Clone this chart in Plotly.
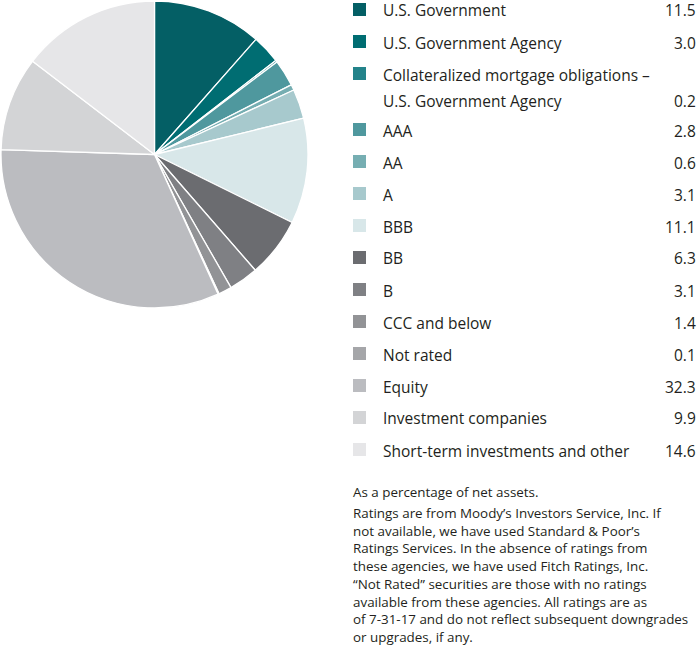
import plotly.graph_objects as go

categories = [
    "U.S. Government",
    "U.S. Government Agency",
    "Collateralized mortgage obligations –<br>U.S. Government Agency",
    "AAA",
    "AA",
    "A",
    "BBB",
    "BB",
    "B",
    "CCC and below",
    "Not rated",
    "Equity",
    "Investment companies",
    "Short-term investments and other",
]
values = [11.5, 3.0, 0.2, 2.8, 0.6, 3.1, 11.1, 6.3, 3.1, 1.4, 0.1, 32.3, 9.9, 14.6]
value_labels = ["11.5", "3.0", "0.2", "2.8", "0.6", "3.1", "11.1", "6.3", "3.1", "1.4", "0.1", "32.3", "9.9", "14.6"]
colors = [
    "#045f65", "#006d72", "#23838a", "#4f989e", "#76aeb2", "#a7c9cd", "#d8e7e9",
    "#6b6c70", "#7f8084", "#929396", "#a5a6a9", "#bbbcc0", "#d3d4d6", "#e6e6e8",
]
note_title = "As a percentage of net assets."
note_lines = [
    "Ratings are from Moody’s Investors Service, Inc. If",
    "not available, we have used Standard & Poor’s",
    "Ratings Services. In the absence of ratings from",
    "these agencies, we have used Fitch Ratings, Inc.",
    "“Not Rated” securities are those with no ratings",
    "available from these agencies. All ratings are as",
    "of 7-31-17 and do not reflect subsequent downgrades",
    "or upgrades, if any.",
]

W, H = 700, 660
FONT = "Open Sans"
TXT = "#231f20"


def px(x):
    return x / W


def py(y):
    return 1 - y / H


fig = go.Figure()
fig.add_trace(go.Pie(
    labels=[c.replace("<br>", " ") for c in categories],
    values=values,
    sort=False,
    direction="clockwise",
    rotation=0,
    marker=dict(colors=colors, line=dict(color="white", width=1.3)),
    textinfo="none",
    hoverinfo="label+value",
    showlegend=False,
    domain=dict(x=[px(1), px(308)], y=[py(308), py(1)]),
))

shapes = []
annotations = []
y = 9.5
for cat, val, col in zip(categories, value_labels, colors):
    shapes.append(dict(type="rect", xref="paper", yref="paper",
                       x0=px(353), x1=px(366), y0=py(y + 6.5), y1=py(y - 6.5),
                       fillcolor=col, line=dict(width=0)))
    lines = cat.split("<br>")
    for j, line in enumerate(lines):
        annotations.append(dict(x=px(381), y=py(y + 1 + 26 * j), xref="paper", yref="paper",
                                text=line, showarrow=False, xanchor="left", yanchor="middle",
                                font=dict(family=FONT, size=15.5, color=TXT)))
    annotations.append(dict(x=px(698), y=py(y + 1 + 26 * (len(lines) - 1)), xref="paper", yref="paper",
                            text=val, showarrow=False, xanchor="right", yanchor="middle",
                            font=dict(family=FONT, size=15.5, color=TXT)))
    y += 32 + 24 * (len(lines) - 1)

annotations.append(dict(x=px(351), y=py(492), xref="paper", yref="paper", text=note_title,
                        showarrow=False, xanchor="left", yanchor="middle",
                        font=dict(family=FONT, size=13.4, color=TXT)))
for k, line in enumerate(note_lines):
    annotations.append(dict(x=px(351), y=py(513 + 17.7 * k), xref="paper", yref="paper", text=line,
                            showarrow=False, xanchor="left", yanchor="middle",
                            font=dict(family=FONT, size=13.4, color=TXT)))

fig.update_layout(
    width=W, height=H,
    margin=dict(l=0, r=0, t=0, b=0),
    paper_bgcolor="white", plot_bgcolor="white",
    shapes=shapes, annotations=annotations,
)
fig.write_html("out.html", config={"displayModeBar": False},
               post_script="document.body.style.margin='0px';document.body.style.overflow='hidden';")
